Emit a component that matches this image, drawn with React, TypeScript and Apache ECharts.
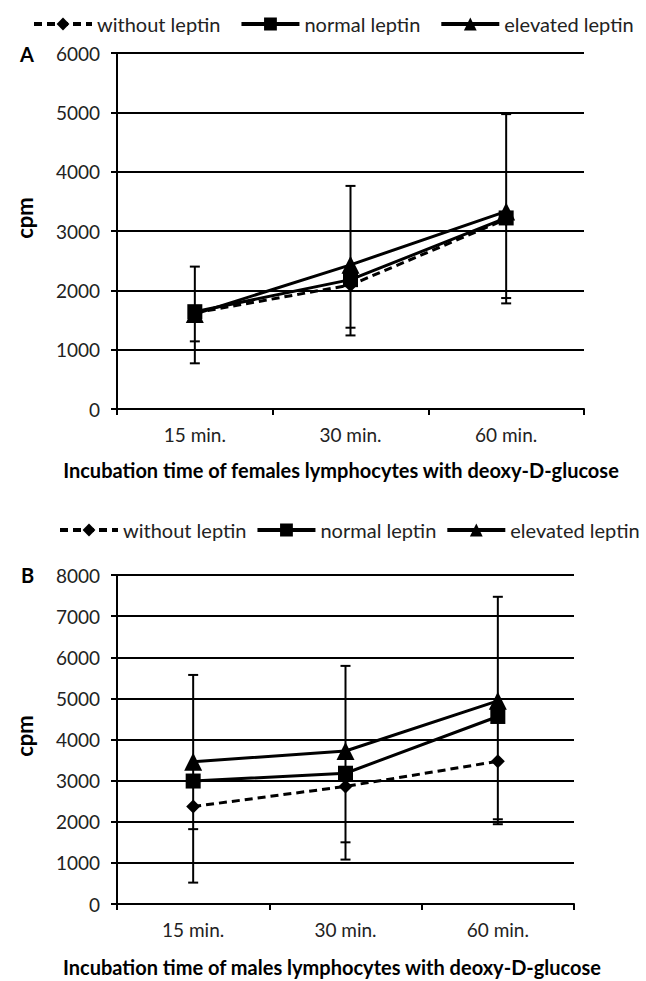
import React, { useEffect, useRef } from "react";
import * as echarts from "echarts";

const categories = ["15 min.", "30 min.", "60 min."];
const seriesNames = ["without leptin", "normal leptin", "elevated leptin"];

// Panel A (females)
const aWithout = [1620, 2090, 3200];
const aNormal = [1640, 2180, 3220];
const aElevated = [1600, 2430, 3330];
const aErrHigh = [2400, 3760, 4970];
const aErrLow = [770, 1240, 1780];
const aErrLow2 = [1140, 1370, 1870];

// Panel B (males)
const bWithout = [2370, 2860, 3470];
const bNormal = [2990, 3180, 4560];
const bElevated = [3460, 3720, 4940];
const bErrHigh = [5570, 5790, 7470];
const bErrLow = [520, 1080, 1940];
const bErrLow2 = [1820, 1500, 2060];

const yTicksA = [0, 1000, 2000, 3000, 4000, 5000, 6000];
const yTicksB = [0, 1000, 2000, 3000, 4000, 5000, 6000, 7000, 8000];

const FONT = "Lato, 'Open Sans', sans-serif";

function errData(high: number[], low: number[], low2: number[]) {
  const d: number[][] = [];
  high.forEach((h, i) => d.push([i, low[i], h, 1]));
  low2.forEach((l, i) => d.push([i, l, l, 0]));
  return d;
}

const renderErr = (params: any, api: any) => {
  const lo = api.coord([api.value(0), api.value(1)]);
  const hi = api.coord([api.value(0), api.value(2)]);
  const full = api.value(3) === 1;
  const w = 5;
  const st = { stroke: "#000", lineWidth: 2 };
  const children: any[] = [
    { type: "line", shape: { x1: lo[0] - w, y1: lo[1], x2: lo[0] + w, y2: lo[1] }, style: st },
  ];
  if (full) {
    children.push({ type: "line", shape: { x1: lo[0], y1: lo[1], x2: hi[0], y2: hi[1] }, style: st });
    children.push({ type: "line", shape: { x1: hi[0] - w, y1: hi[1], x2: hi[0] + w, y2: hi[1] }, style: st });
  }
  return { type: "group", children };
};

function lineSeries(name: string, data: number[], idx: number, kind: number) {
  const symbols = ["diamond", "rect", "triangle"];
  const sizes = [14, 15, 18];
  return {
    type: "line",
    name,
    xAxisIndex: idx,
    yAxisIndex: idx,
    data,
    symbol: symbols[kind],
    symbolSize: sizes[kind],
    itemStyle: { color: "#000" },
    lineStyle: { color: "#000", width: 3, type: kind === 0 ? [8, 5] : "solid" },
    z: 3 + kind,
  };
}

export default function App() {
  const ref = useRef<HTMLDivElement>(null);
  useEffect(() => {
    const chart = echarts.init(ref.current!, null, { renderer: "svg" });
    const yAxisCommon = {
      type: "value",
      axisLine: { show: true, lineStyle: { color: "#000", width: 2 } },
      axisTick: { show: true, inside: false, length: 6, lineStyle: { color: "#000", width: 2 } },
      splitLine: { show: true, lineStyle: { color: "#000", width: 2 } },
      axisLabel: { color: "#222", fontSize: 19, fontFamily: FONT, margin: 17, formatter: (v: number) => String(v) },
    };
    const xAxisCommon = {
      type: "category",
      data: categories,
      boundaryGap: true,
      axisLine: { show: true, lineStyle: { color: "#000", width: 2 } },
      axisTick: { show: true, length: 6, lineStyle: { color: "#000", width: 2 } },
      axisLabel: { color: "#222", fontSize: 19, fontFamily: FONT, margin: 16 },
    };
    const legendCommon = {
      data: seriesNames,
      itemWidth: 58,
      itemHeight: 16,
      width: 640,
      lineStyle: { width: 4 },
      textStyle: { color: "#222", fontSize: 20, fontFamily: FONT },
    };
    chart.setOption({
      animation: false,
      backgroundColor: "#fff",
      legend: [
        { ...legendCommon, top: 9, left: 27, itemGap: 19 },
        { ...legendCommon, top: 515, left: 53, itemGap: 9 },
      ],
      grid: [
        { left: 117, top: 53, width: 467, height: 356 },
        { left: 117, top: 575, width: 457, height: 329 },
      ],
      xAxis: [
        { ...xAxisCommon, gridIndex: 0 },
        { ...xAxisCommon, gridIndex: 1 },
      ],
      yAxis: [
        { ...yAxisCommon, gridIndex: 0, min: yTicksA[0], max: yTicksA[yTicksA.length - 1], interval: 1000 },
        { ...yAxisCommon, gridIndex: 1, min: yTicksB[0], max: yTicksB[yTicksB.length - 1], interval: 1000 },
      ],
      graphic: [
        { type: "text", x: 20, y: 54, style: { text: "A", fontSize: 20, fontWeight: "bold", fontFamily: FONT, fill: "#000", verticalAlign: "middle" } },
        { type: "text", x: 21, y: 575, style: { text: "B", fontSize: 20, fontWeight: "bold", fontFamily: FONT, fill: "#000", verticalAlign: "middle" } },
        { type: "text", x: 24, y: 218, rotation: Math.PI / 2, style: { text: "cpm", fontSize: 22, fontWeight: "bold", fontFamily: FONT, fill: "#000", align: "center", verticalAlign: "middle" } },
        { type: "text", x: 24, y: 736, rotation: Math.PI / 2, style: { text: "cpm", fontSize: 22, fontWeight: "bold", fontFamily: FONT, fill: "#000", align: "center", verticalAlign: "middle" } },
        { type: "text", x: 341, y: 470, style: { text: "Incubation time of females lymphocytes with deoxy-D-glucose", fontSize: 20, fontWeight: "bold", fontFamily: FONT, fill: "#000", align: "center", verticalAlign: "middle" } },
        { type: "text", x: 332, y: 967, style: { text: "Incubation time of males lymphocytes with deoxy-D-glucose", fontSize: 20, fontWeight: "bold", fontFamily: FONT, fill: "#000", align: "center", verticalAlign: "middle" } },
      ],
      series: [
        { type: "custom", xAxisIndex: 0, yAxisIndex: 0, data: errData(aErrHigh, aErrLow, aErrLow2), renderItem: renderErr, z: 2, silent: true },
        { type: "custom", xAxisIndex: 1, yAxisIndex: 1, data: errData(bErrHigh, bErrLow, bErrLow2), renderItem: renderErr, z: 2, silent: true },
        lineSeries(seriesNames[0], aWithout, 0, 0),
        lineSeries(seriesNames[1], aNormal, 0, 1),
        lineSeries(seriesNames[2], aElevated, 0, 2),
        lineSeries(seriesNames[0], bWithout, 1, 0),
        lineSeries(seriesNames[1], bNormal, 1, 1),
        lineSeries(seriesNames[2], bElevated, 1, 2),
      ],
    });
    return () => chart.dispose();
  }, []);
  return <div ref={ref} style={{ position: "fixed", left: 0, top: 0, width: 646, height: 981 }} />;
}
